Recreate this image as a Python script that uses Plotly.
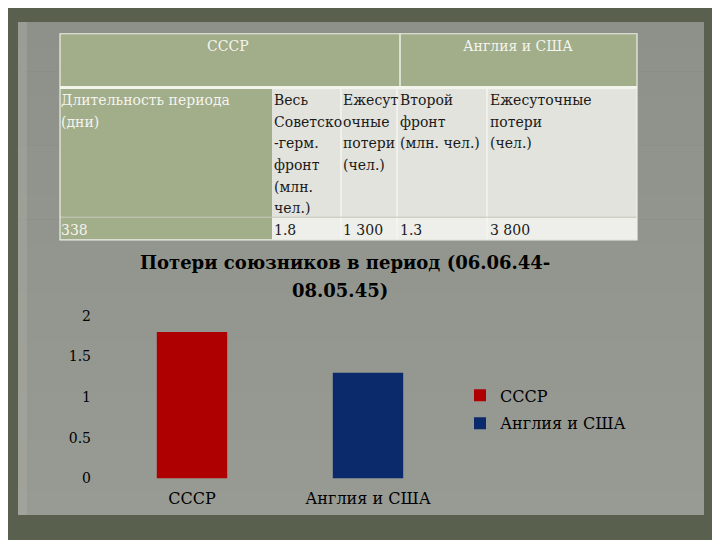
import plotly.graph_objects as go

# ---------------- data ----------------
categories = ["СССР", "Англия и США"]
losses_mln = [1.8, 1.3]
series_names = ["СССР", "Англия и США"]
series_colors = ["#ae0000", "#0b2a6c"]

y_ticks = [0, 0.5, 1, 1.5, 2]
y_tick_labels = ["0", "0.5", "1", "1.5", "2"]

chart_title = "Потери союзников в период (06.06.44-<br>08.05.45)"

table_groups = ["СССР", "Англия и США"]
table_headers = [
    ["Длительность периода", "(дни)"],
    ["Весь", "Советско", "-герм.", "фронт", "(млн.", "чел.)"],
    ["Ежесут", "очные", "потери", "(чел.)"],
    ["Второй", "фронт", "(млн. чел.)"],
    ["Ежесуточные", "потери", "(чел.)"],
]
table_values = ["338", "1.8", "1 300", "1.3", "3 800"]

# ---------------- helpers (screen pixel -> paper) ----------------
W, H = 720, 540
OX, OY, SY = 8.0, 8.0, 0.984
def px(x):
    return (x - OX) / W
def py(y):
    return 1 - ((y - OY) / SY) / H

FONT = "DejaVu Serif"
SAGE = "#a2ad8a"
LINE = "#eef0e6"

fig = go.Figure()
for name, cat, val, col in zip(series_names, categories, losses_mln, series_colors):
    fig.add_trace(go.Bar(
        x=[cat], y=[val], name=name, width=0.4, legendgroup=name,
        marker=dict(color=col, line=dict(width=0)),
    ))

shapes = []
def rect(x0, y0, x1, y1, fill, line_color=None, lw=0):
    shapes.append(dict(
        type="rect", xref="paper", yref="paper", layer="below",
        x0=px(x0), x1=px(x1), y0=py(y1), y1=py(y0),
        fillcolor=fill,
        line=dict(color=line_color or fill, width=lw),
    ))
def line(x0, y0, x1, y1, color, lw=1):
    shapes.append(dict(
        type="line", xref="paper", yref="paper", layer="below",
        x0=px(x0), x1=px(x1), y0=py(y0), y1=py(y1),
        line=dict(color=color, width=lw),
    ))

# slide panel with a soft vertical gradient
top_rgb, bot_rgb = (0x8d, 0x91, 0x89), (0x98, 0x9b, 0x94)
n_bands = 20
y_top, y_bot = 14, 514
for k in range(n_bands):
    t = k / (n_bands - 1)
    c = tuple(round(a + (b - a) * t) for a, b in zip(top_rgb, bot_rgb))
    y0 = y_top + (y_bot - y_top) * k / n_bands
    y1 = y_top + (y_bot - y_top) * (k + 1) / n_bands + 0.6
    rect(18, y0, 704, min(y1, y_bot), "rgb(%d,%d,%d)" % c)
rect(18, 14, 27, 514, "rgba(170,173,165,0.45)")

# table
col_x = [60, 272, 341, 397, 487, 637]
rect(60, 26, 637, 79, SAGE)
rect(60, 79, 637, 82, "#f3f4ec")
rect(60, 82, 272, 235, SAGE)
rect(272, 82, 637, 212, "#e2e3dd")
rect(272, 212, 637, 235, "#eeeeea")
for cx in col_x[2:5]:
    line(cx, 82, cx, 235, "#f4f4f0", 1.5)
line(400, 26, 400, 79, LINE, 1.5)
line(60, 212, 637, 212, "#c8ccbd", 1)
rect(60, 26, 637, 235, "rgba(0,0,0,0)", LINE, 1.2)

annotations = []
def text(x, y, s, size=15, color="black", xanchor="left", weight="normal"):
    annotations.append(dict(
        xref="paper", yref="paper", x=px(x), y=py(y), text=s,
        showarrow=False, xanchor=xanchor, yanchor="middle",
        font=dict(family=FONT, size=size, color=color, weight=weight),
    ))

# header row
text(228, 38, table_groups[0], 14, "#f4f4ee", "center")
text(518, 38, table_groups[1], 14, "#f4f4ee", "center")

# column headers
text_x = [59, 272, 341, 398, 488]
for i, lines in enumerate(table_headers):
    color = "#f4f4ee" if i == 0 else "#1a1a1a"
    for j, s in enumerate(lines):
        text(text_x[i], 93 + 22 * j, s, 14, color)
# values row
for i, v in enumerate(table_values):
    color = "#f4f4ee" if i == 0 else "#1a1a1a"
    text(text_x[i], 225, v, 14, color)

# chart title (two lines, as in the original)
title_lines = chart_title.split("<br>")
text(345, 258, title_lines[0], 18, "black", "center", "bold")
text(340, 286, title_lines[1], 18, "black", "center", "bold")

fig.update_layout(
    width=W, height=H,
    margin=dict(l=0, r=0, t=0, b=0),
    paper_bgcolor="#59604e",
    plot_bgcolor="rgba(0,0,0,0)",
    showlegend=True,
    barmode="overlay",
    shapes=shapes,
    annotations=annotations,
    xaxis=dict(
        domain=[px(104), px(456)], range=[-0.5, 1.5],
        showgrid=False, zeroline=False, showline=False, ticks="",
        ticklabelstandoff=8,
        tickfont=dict(family=FONT, size=16, color="black"),
        categoryorder="array", categoryarray=categories,
    ),
    yaxis=dict(
        domain=[py(477), py(312)], range=[0, 2],
        tickvals=y_ticks, ticktext=y_tick_labels,
        showgrid=False, zeroline=False, showline=False, ticks="",
        ticklabelstandoff=12,
        tickfont=dict(family=FONT, size=14, color="black"),
    ),
    legend=dict(
        x=px(460), xanchor="left", y=py(407), yanchor="middle",
        bgcolor="rgba(0,0,0,0)",
        font=dict(family=FONT, size=16, color="black"),
        itemwidth=30, tracegroupgap=4,
    ),
)

fig.write_html("out.html")
